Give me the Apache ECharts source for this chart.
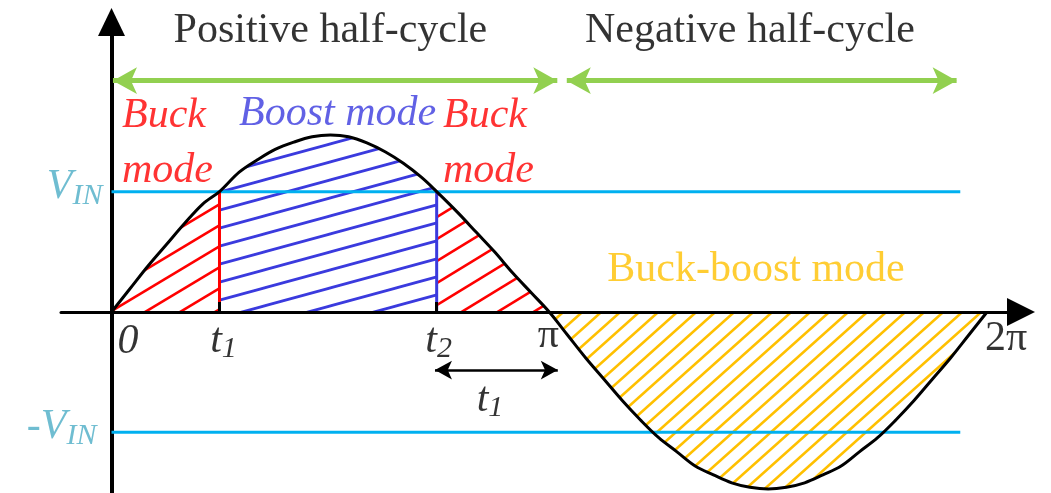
<!DOCTYPE html>
<html>
<head>
<meta charset="utf-8">
<script src="https://cdn.jsdelivr.net/npm/echarts@6/dist/echarts.min.js"></script>
<style>
html, body { margin: 0; padding: 0; background: #fff; }
#chart { width: 1051px; height: 493px; }
</style>
</head>
<body>
<div id="chart"></div>
<script>
// Phase angle in degrees over one full cycle; voltage normalised to the peak.
const t1 = 44.4;
const t2 = 133.7;
const VIN = 0.68;

// Input voltage waveform
const curveAngle = [0, 7.5, 15, 22.5, 30, 37.5, t1, 52.5, 60, 67.5, 75, 82.5, 90,
                    97.5, 105, 112.5, 120, 127.5, t2, 142.5, 150, 157.5, 165, 172.5, 180,
                    187.5, 195, 202.5, 210, 217.5, 225, 232.5, 240, 247.5, 255, 262.5, 270,
                    277.5, 285, 292.5, 300, 307.5, 315, 322.5, 330, 337.5, 345, 352.5, 360];
const curveValue = [0, 0.13, 0.26, 0.38, 0.5, 0.61, VIN, 0.79, 0.86, 0.92, 0.96, 0.99, 1.0,
                    0.99, 0.955, 0.905, 0.84, 0.76, VIN, 0.56, 0.45, 0.34, 0.22, 0.11, 0,
                    -0.13, -0.26, -0.38, -0.5, -0.61, -0.71, -0.79, -0.87, -0.92, -0.965, -0.99, -1.0,
                    -0.99, -0.965, -0.92, -0.87, -0.79, -0.71, -0.61, -0.5, -0.38, -0.26, -0.13, 0];

// Horizontal input-voltage levels and their extent
const levelValue = [VIN, -VIN];
const levelEnd = 349;

// Half-cycle span arrows
const halfCycleSpan = [[0.6, 183.3], [187.2, 347.5]];
const halfCycleLevel = 1.307;
const halfCycleText = ['Positive half-cycle', 'Negative half-cycle'];
const halfCycleTextAt = [[90, 1.59], [262.5, 1.59]];

// Interval arrow from t2 to just past pi (its length equals t1)
const spanArrow = [133, 183.5];
const spanLevel = -0.328;

// Operating-mode labels
const modeText = ['Buck\nmode', 'Boost mode', 'Buck\nmode', 'Buck-boost mode'];
const modeAt = [[4.3, 0.955], [93, 1.12], [136.3, 0.955], [265, 0.237]];

// Axis markings
const tickValue = [0, t1, t2, 180, 360];
const tickText = ['{i|0}', '{i|t}{s|1}', '{i|t}{s|2}', '{r|π}', '{r|2π}'];

const SERIF = "'Liberation Serif', 'Times New Roman', serif";
const RED = '#ff0000', BLUE = '#3a3ade', ORANGE = '#ffc000', CYAN = '#00b0f0',
      TEAL = '#4bacc6', GREEN = '#92d050';

function hatch(color, w, h, lw) {
  const c = document.createElement('canvas');
  c.width = w; c.height = h;
  const ctx = c.getContext('2d');
  ctx.strokeStyle = color;
  ctx.lineWidth = lw;
  for (let n = 0; n <= 2; n++) {
    ctx.beginPath();
    ctx.moveTo(-w, (n + 1) * h);
    ctx.lineTo(2 * w, (n - 2) * h);
    ctx.stroke();
  }
  return { image: c, repeat: 'repeat' };
}

const curve = curveAngle.map((a, i) => [a, curveValue[i]]);
const segment = (lo, hi) => curve.filter(p => p[0] >= lo && p[0] <= hi);
const SMOOTH = 0.35;

function areaSeries(lo, hi, fill) {
  return {
    type: 'line', data: segment(lo, hi), smooth: SMOOTH, symbol: 'none',
    lineStyle: { width: 0, opacity: 0 }, areaStyle: { color: fill, opacity: 1 },
    silent: true, z: 2
  };
}

const modeStyle = [
  { color: RED, fontStyle: 'italic', align: 'left', lineHeight: 55 },
  { color: BLUE, fontStyle: 'italic', align: 'center', lineHeight: 48 },
  { color: RED, fontStyle: 'italic', align: 'left', lineHeight: 55 },
  { color: ORANGE, fontStyle: 'normal', align: 'center', lineHeight: 48 }
];
const tickOffset = [[16.5, 30], [4, 29], [2, 29], [-1, 24], [19, 27]];

const richText = {
  i: { fontFamily: SERIF, fontSize: 42, fontStyle: 'italic', color: '#000', lineHeight: 46 },
  s: { fontFamily: SERIF, fontSize: 30, fontStyle: 'italic', color: '#000', lineHeight: 30, verticalAlign: 'bottom' },
  r: { fontFamily: SERIF, fontSize: 42, color: '#000', lineHeight: 46 },
  v: { fontFamily: SERIF, fontSize: 42, fontStyle: 'italic', color: TEAL, lineHeight: 48 },
  vs: { fontFamily: SERIF, fontSize: 30, fontStyle: 'italic', color: TEAL, lineHeight: 30, verticalAlign: 'bottom' }
};

const notes = [];
halfCycleText.forEach((t, i) => notes.push({
  name: t, value: halfCycleTextAt[i],
  label: { color: '#000', fontSize: 42, align: 'center' }
}));
modeText.forEach((t, i) => notes.push({
  name: t, value: modeAt[i],
  label: Object.assign({ fontSize: 42 }, modeStyle[i])
}));
tickText.forEach((t, i) => notes.push({
  name: t, value: [tickValue[i], 0],
  label: { align: 'center', offset: tickOffset[i] }
}));
notes.push({ name: '{v|V}{vs|IN}', value: [0, levelValue[0]], label: { align: 'right', offset: [-9, -5] } });
notes.push({ name: '{v|-V}{vs|IN}', value: [0, levelValue[1]], label: { align: 'right', offset: [-15, -5] } });
notes.push({ name: '{i|t}{s|1}', value: [(t2 + 180) / 2, spanLevel], label: { align: 'center', offset: [-3, 30] } });

const option = {
  animation: false,
  backgroundColor: '#fff',
  grid: { left: 61, right: 30, top: 22, bottom: 0 },
  xAxis: {
    type: 'value', min: -20.77, max: 373.97, z: 10,
    axisLine: { onZero: true, symbol: ['none', 'triangle'], symbolSize: [28, 28],
                lineStyle: { color: '#000', width: 3 } },
    axisTick: { show: true, inside: true, length: 10, customValues: [t1, t2],
                lineStyle: { color: '#000', width: 3 } },
    axisLabel: { show: false }, splitLine: { show: false }
  },
  yAxis: {
    type: 'value', min: -1.0226, max: 1.6384,
    axisLine: { onZero: true, symbol: ['none', 'triangle'], symbolSize: [27, 28],
                lineStyle: { color: '#000', width: 4 } },
    axisTick: { show: false }, axisLabel: { show: false }, splitLine: { show: false }
  },
  series: [
    areaSeries(0, t1, hatch(RED, 35, 21, 2.6)),
    areaSeries(t1, t2, hatch(BLUE, 66, 18, 2.8)),
    areaSeries(t2, 180, hatch(RED, 36, 22, 2.6)),
    areaSeries(180, 360, hatch(ORANGE, 19, 17, 2.6)),
    // input-voltage levels
    ...levelValue.map(v => ({
      type: 'line', data: [[0, v], [levelEnd, v]], symbol: 'none', silent: true, z: 3,
      lineStyle: { color: CYAN, width: 3 }
    })),
    // mode boundaries at t1 and t2
    { type: 'line', data: [[t1, 0], [t1, VIN]], symbol: 'none', silent: true, z: 3,
      lineStyle: { color: RED, width: 3 } },
    { type: 'line', data: [[t2, 0], [t2, VIN]], symbol: 'none', silent: true, z: 3,
      lineStyle: { color: BLUE, width: 3 } },
    // waveform
    { type: 'line', data: curve, smooth: SMOOTH, symbol: 'none', silent: true, z: 4,
      lineStyle: { color: '#000', width: 3 } },
    // span arrows
    { type: 'line', data: [], silent: true, z: 5,
      markLine: {
        silent: true, symbol: ['arrow', 'arrow'], symbolSize: [20, 24],
        label: { show: false }, emphasis: { disabled: true },
        lineStyle: { color: GREEN, width: 5, type: 'solid' },
        data: halfCycleSpan.map(s => [{ coord: [s[0], halfCycleLevel] }, { coord: [s[1], halfCycleLevel] }])
      } },
    { type: 'line', data: [], silent: true, z: 5,
      markLine: {
        silent: true, symbol: ['arrow', 'arrow'], symbolSize: [14, 17],
        label: { show: false }, emphasis: { disabled: true },
        lineStyle: { color: '#000', width: 2.5, type: 'solid' },
        data: [[{ coord: [spanArrow[0], spanLevel] }, { coord: [spanArrow[1], spanLevel] }]]
      } },
    // text annotations
    { type: 'scatter', data: notes, symbolSize: 0, silent: true, z: 6,
      label: { show: true, position: 'inside', verticalAlign: 'middle', color: '#000',
               fontFamily: SERIF, formatter: p => p.name, rich: richText } }
  ]
};

echarts.init(document.getElementById('chart')).setOption(option);
</script>
</body>
</html>
